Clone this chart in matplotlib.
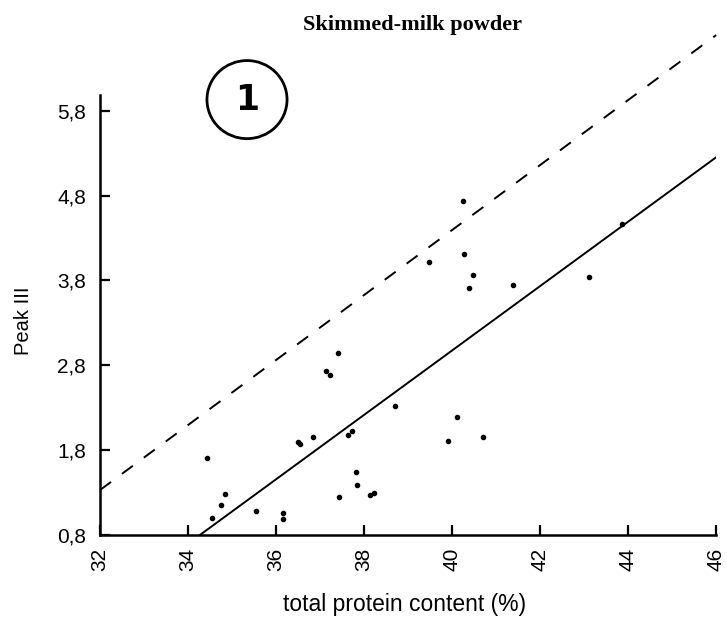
import matplotlib
matplotlib.use("Agg")
import matplotlib.pyplot as plt
from matplotlib.patches import Ellipse

# measured points (total protein %, peak III)
protein = [34.43, 34.55, 34.75, 34.84, 35.55, 36.16, 36.16, 36.50, 36.54, 36.84,
           37.14, 37.23, 37.41, 37.43, 37.64, 37.73, 37.82, 37.84, 38.14, 38.23,
           38.70, 39.48, 39.91, 40.11, 40.25, 40.27, 40.39, 40.48, 40.70, 41.39,
           43.11, 43.86]
peak3 = [1.71, 1.00, 1.15, 1.28, 1.08, 1.06, 0.99, 1.90, 1.87, 1.95,
         2.73, 2.69, 2.95, 1.25, 1.98, 2.02, 1.54, 1.39, 1.27, 1.29,
         2.32, 4.02, 1.91, 2.19, 4.73, 4.11, 3.71, 3.86, 1.95, 3.75,
         3.84, 4.47]

# regression line and upper limit line (end points)
fit_x = [34.27, 46.0]
fit_y = [0.80, 5.25]
limit_x = [32.0, 46.0]
limit_y = [1.33, 6.69]

xticks = [32, 34, 36, 38, 40, 42, 44, 46]
yticks = [0.8, 1.8, 2.8, 3.8, 4.8, 5.8]
ytick_labels = ["0,8", "1,8", "2,8", "3,8", "4,8", "5,8"]

plt.rcParams['font.family'] = ['Liberation Sans', 'DejaVu Sans']

fig = plt.figure(figsize=(7.27, 6.21), dpi=100)
ax = fig.add_axes([0.1376, 0.1385, 0.8474, 0.82])

ax.scatter(protein, peak3, s=9, color='black', zorder=3)
ax.plot(fit_x, fit_y, color='black', lw=1.4)
ax.plot(limit_x, limit_y, color='black', lw=1.4, dashes=(7, 7), clip_on=False)

ax.set_xlim(32, 46)
ax.set_ylim(0.8, 6.8)
ax.spines['top'].set_visible(False)
ax.spines['right'].set_visible(False)
ax.spines['left'].set_bounds(0.8, 5.98)
ax.spines['left'].set_linewidth(1.8)
ax.spines['bottom'].set_linewidth(1.8)

ax.set_xticks(xticks)
ax.set_xticklabels([str(t) for t in xticks], rotation=90, fontsize=15)
ax.set_yticks(yticks)
ax.set_yticklabels(ytick_labels, fontsize=15)
ax.tick_params(direction='in', length=7, width=1.6)
ax.tick_params(axis='x', pad=9)
ax.tick_params(axis='y', pad=10)

ax.set_xlabel('total protein content (%)', fontsize=16.5, va='center')
ax.xaxis.set_label_coords(0.495, -0.137)
ax.set_ylabel('Peak III', fontsize=14.5, va='center')
ax.yaxis.set_label_coords(-0.125, 0.42)

# circled panel number
ax.add_patch(Ellipse((35.34, 5.93), 1.82, 0.92, fill=False, lw=2, color='black', clip_on=False))
ax.text(35.34, 5.93, '1', fontsize=25, fontweight='heavy', family='DejaVu Sans',
        ha='center', va='center')

fig.text(0.567, 0.96, 'Skimmed-milk powder', fontsize=16, fontweight='bold',
         family='Liberation Serif', ha='center', va='center')

fig.savefig('out.png', dpi=100)
